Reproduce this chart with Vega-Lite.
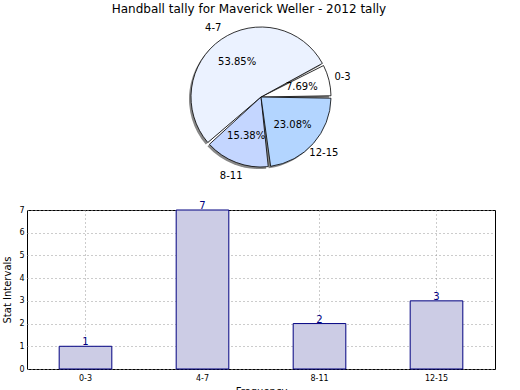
{
  "$schema": "https://vega.github.io/schema/vega-lite/v6.json",
  "padding": {"left": 2, "top": 3, "right": 5, "bottom": 0},
  "background": "white",
  "config": {
    "font": "DejaVu Sans",
    "view": {"stroke": null},
    "title": {"font": "DejaVu Sans", "fontSize": 12, "fontWeight": "normal", "color": "black", "offset": 6}
  },
  "title": {"text": "Handball tally for Maverick Weller - 2012 tally", "anchor": "middle"},
  "datasets": {
    "tally": [
      {"idx": 1, "interval": "0-3", "count": 1, "pct": "7.69%", "color": "#ffffff"},
      {"idx": 2, "interval": "4-7", "count": 7, "pct": "53.85%", "color": "#ebf2ff"},
      {"idx": 3, "interval": "8-11", "count": 2, "pct": "15.38%", "color": "#c4d6ff"},
      {"idx": 4, "interval": "12-15", "count": 3, "pct": "23.08%", "color": "#b3d5ff"}
    ]
  },
  "vconcat": [
    {
      "width": 468,
      "height": 150,
      "data": {"name": "tally"},
      "encoding": {
        "theta": {"field": "count", "type": "quantitative", "stack": true, "scale": {"range": [1.5708, -4.7124]}},
        "order": {"field": "idx", "type": "quantitative"}
      },
      "layer": [
        {
          "mark": {"type": "arc", "outerRadius": 70, "padAngle": 0.035, "fill": "#888888", "xOffset": -2, "yOffset": 2}
        },
        {
          "mark": {"type": "arc", "outerRadius": 70, "padAngle": 0.035, "stroke": "black", "strokeWidth": 0.8},
          "encoding": {
            "fill": {"field": "color", "type": "nominal", "scale": null}
          }
        },
        {
          "mark": {"type": "text", "radius": 42, "fontSize": 10, "color": "black"},
          "encoding": {"text": {"field": "pct"}}
        },
        {
          "mark": {"type": "text", "radius": 84, "fontSize": 10, "color": "black"},
          "encoding": {"text": {"field": "interval"}}
        }
      ]
    },
    {
      "width": 468,
      "height": 159,
      "data": {"name": "tally"},
      "encoding": {
        "x": {
          "field": "interval", "type": "nominal", "sort": null,
          "scale": {"paddingInner": 0, "paddingOuter": 0},
          "axis": {
            "title": "Frequency", "labelAngle": 0, "labelFontSize": 8, "titleFontSize": 10,
            "titleFontWeight": "normal", "titleColor": "black", "labelColor": "black",
            "grid": true, "gridDash": [1, 3], "gridColor": "#999999",
            "tickSize": 0, "labelPadding": 5, "domain": false, "titlePadding": 4
          }
        },
        "y": {
          "field": "count", "type": "quantitative",
          "scale": {"domain": [0, 7], "nice": false},
          "axis": {
            "title": "Stat Intervals", "values": [0, 1, 2, 3, 4, 5, 6, 7], "labelOverlap": false,
            "labelFontSize": 8, "titleFontSize": 10, "titleFontWeight": "normal",
            "titleColor": "black", "labelColor": "black",
            "grid": true, "gridDash": [1, 3], "gridColor": "#999999",
            "tickSize": 0, "labelPadding": 3, "domain": false, "titlePadding": 6
          }
        }
      },
      "layer": [
        {
          "mark": {"type": "bar", "width": {"band": 0.45}, "fill": "#ccccE5", "stroke": "#000080", "strokeWidth": 1}
        },
        {
          "mark": {"type": "text", "baseline": "bottom", "dy": 1, "fontSize": 10, "color": "#000080"},
          "encoding": {
            "text": {"field": "count"}
          }
        }
      ],
      "view": {"stroke": "black", "strokeWidth": 1}
    }
  ],
  "spacing": 19
}
